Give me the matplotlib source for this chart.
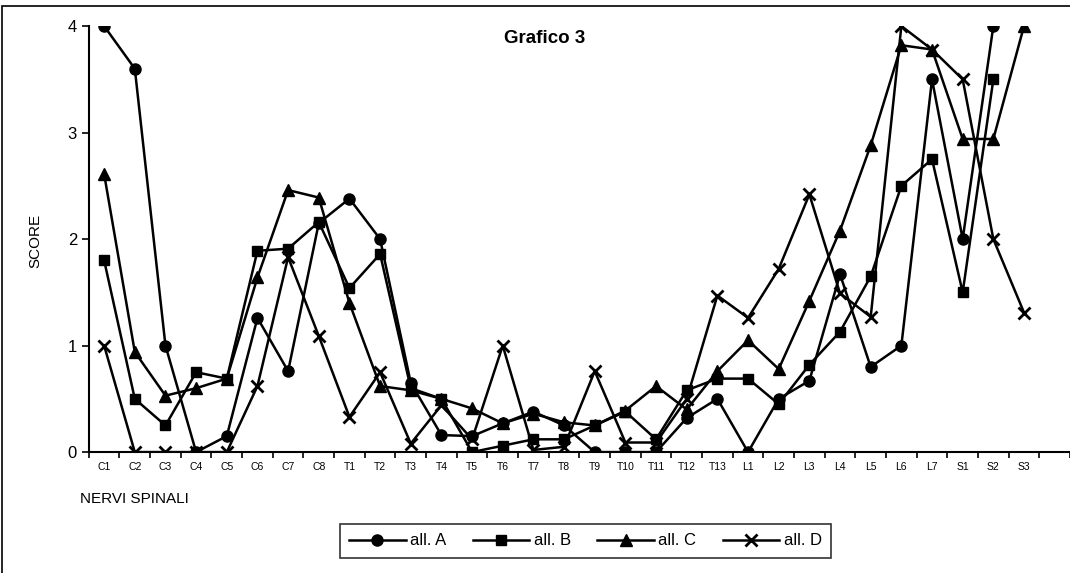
import matplotlib.pyplot as plt
from matplotlib.patches import Rectangle

plt.rcParams['font.family'] = ['Liberation Sans', 'DejaVu Sans']

nerves = ['C1', 'C2', 'C3', 'C4', 'C5', 'C6', 'C7', 'C8',
          'T1', 'T2', 'T3', 'T4', 'T5', 'T6', 'T7', 'T8', 'T9', 'T10', 'T11', 'T12', 'T13',
          'L1', 'L2', 'L3', 'L4', 'L5', 'L6', 'L7',
          'S1', 'S2', 'S3']

# S3 has no value for all. A and all. B
all_a = [4.0, 3.6, 1.0, 0.0, 0.15, 1.26, 0.76, 2.15,
         2.38, 2.0, 0.65, 0.16, 0.15, 0.27, 0.38, 0.25, 0.0, 0.0, 0.0, 0.32, 0.5,
         0.0, 0.5, 0.67, 1.67, 0.8, 1.0, 3.5,
         2.0, 4.0, None]
all_b = [1.8, 0.5, 0.25, 0.75, 0.69, 1.89, 1.91, 2.16,
         1.54, 1.86, 0.6, 0.5, 0.0, 0.06, 0.12, 0.12, 0.25, 0.38, 0.12, 0.58, 0.69,
         0.69, 0.45, 0.82, 1.13, 1.65, 2.5, 2.75,
         1.5, 3.5, None]
all_c = [2.61, 0.94, 0.53, 0.6, 0.69, 1.64, 2.46, 2.39,
         1.4, 0.62, 0.58, 0.5, 0.41, 0.27, 0.36, 0.28, 0.25, 0.39, 0.62, 0.4, 0.76,
         1.05, 0.78, 1.42, 2.08, 2.88, 3.82, 3.78,
         2.94, 2.94, 4.0]
all_d = [1.0, 0.0, 0.0, 0.0, 0.0, 0.62, 1.83, 1.09,
         0.33, 0.75, 0.08, 0.44, 0.12, 1.0, 0.02, 0.05, 0.76, 0.09, 0.09, 0.5, 1.47,
         1.26, 1.72, 2.42, 1.49, 1.27, 4.0, 3.78,
         3.5, 2.0, 1.31]

fig = plt.figure(figsize=(10.7, 5.73), dpi=100)
ax = fig.add_axes([0.083, 0.211, 0.917, 0.7435])

x = list(range(len(nerves)))
series = [(all_a, 'o', 'all. A', 8), (all_b, 's', 'all. B', 7.5),
          (all_c, '^', 'all. C', 8), (all_d, 'x', 'all. D', 9)]
for vals, m, lab, ms in series:
    xs = [i for i, v in zip(x, vals) if v is not None]
    ys = [v for v in vals if v is not None]
    ax.plot(xs, ys, color='black', lw=1.8, marker=m, markersize=ms,
            markeredgewidth=2 if m == 'x' else 1, label=lab)

ax.set_xlim(-0.5, 31.5)
ax.set_ylim(0, 4)
ax.set_yticks([0, 1, 2, 3, 4])
ax.set_xticks(x)
ax.set_xticklabels(nerves, fontsize=7.5)
ax.set_xticks([i + 0.5 for i in range(-1, 32)], minor=True)
ax.tick_params(axis='x', which='major', length=0, pad=7)
ax.tick_params(axis='x', which='minor', length=4, width=1.2, direction='out')
ax.tick_params(axis='y', labelsize=12, length=5, width=1.2, direction='out')
ax.spines['top'].set_visible(False)
ax.spines['right'].set_visible(False)
ax.spines['left'].set_linewidth(1.5)
ax.spines['bottom'].set_linewidth(1.5)

ax.text(0.465, 0.99, 'Grafico 3', transform=ax.transAxes, ha='center', va='top',
        fontsize=13.5, fontweight='bold')
fig.text(0.033, 0.58, 'SCORE', rotation=90, ha='center', va='center', fontsize=11)
fig.text(0.075, 0.13, 'NERVI SPINALI', ha='left', va='center', fontsize=11)

leg = fig.legend(loc='center', bbox_to_anchor=(0.547, 0.056), ncol=4, fontsize=12,
                 frameon=True, fancybox=False, edgecolor='black', handlelength=3.4,
                 handletextpad=0.25, columnspacing=1.6, borderpad=0.55)
leg.get_frame().set_linewidth(1.2)

fig.patches.append(Rectangle((0.002, -0.05), 1.1, 1.04, transform=fig.transFigure,
                             fill=False, edgecolor='black', lw=1.2))

fig.savefig('out.png', dpi=100)
